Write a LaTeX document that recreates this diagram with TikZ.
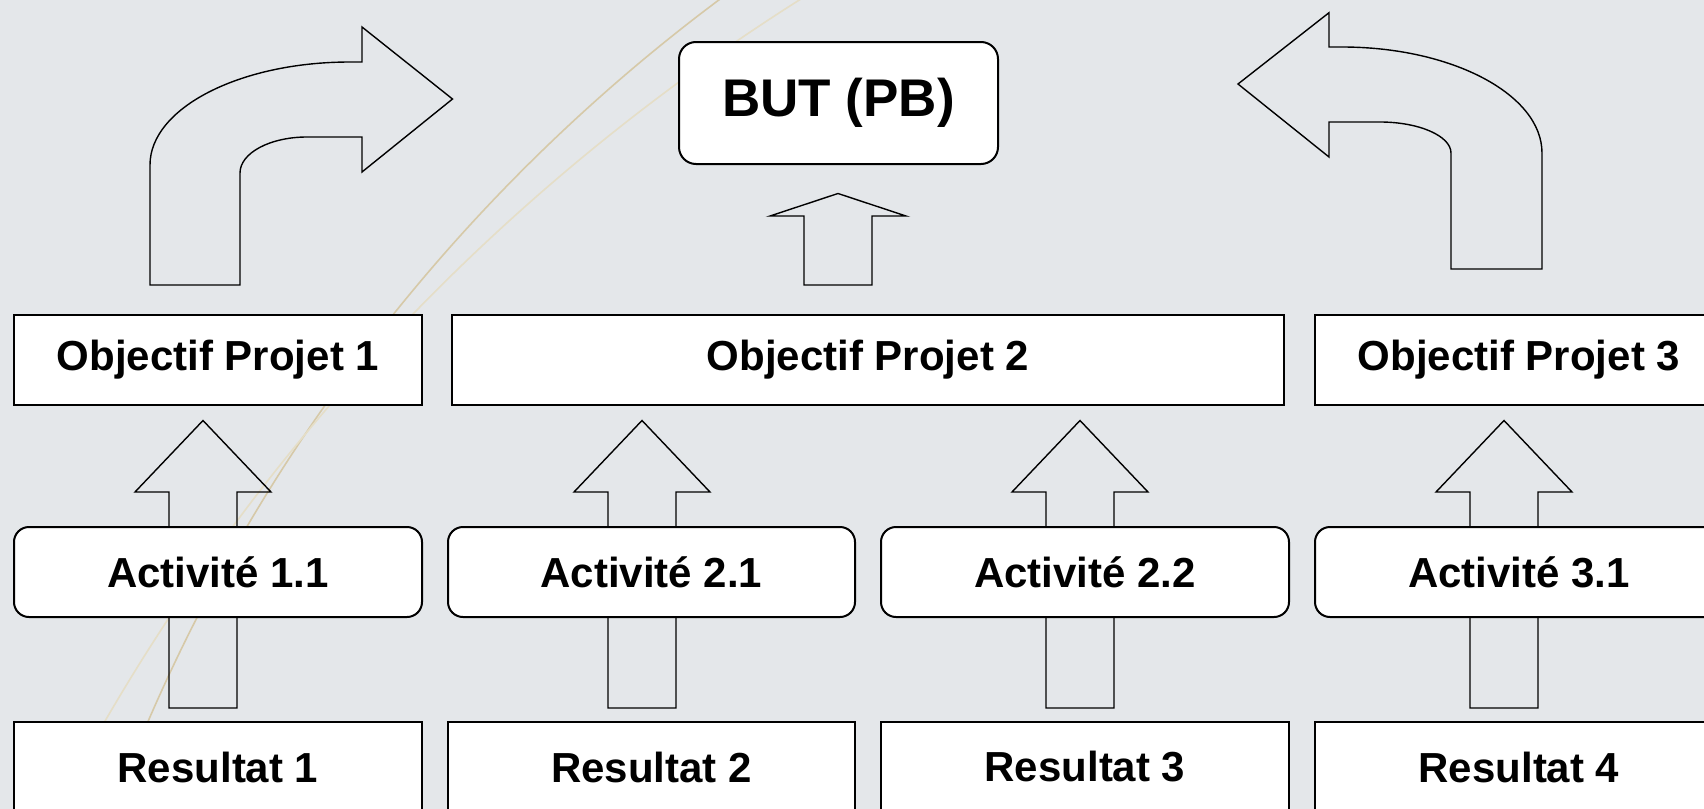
\documentclass[tikz,border=0pt]{standalone}
\usepackage{fontspec}
\setmainfont{Liberation Sans}
\usetikzlibrary{calc}
\definecolor{slidebg}{RGB}{228,231,234}
\definecolor{arcdark}{RGB}{214,201,168}
\definecolor{arclight}{RGB}{229,222,199}
\pgfdeclarelayer{back}
\pgfdeclarelayer{shapes}
\pgfsetlayers{back,shapes,main}

% upward block arrow: #1 base point, #2 tip, #3 head length, #4 shaft half width, #5 head half width
\newcommand\blockup[5]{%
  \draw[blockarrow] ($(#1)+(-#4,0)$) -- ($(#2)+(-#4,#3)$) -- ($(#2)+(-#5,#3)$) -- (#2)
    -- ($(#2)+(#5,#3)$) -- ($(#2)+(#4,#3)$) -- ($(#1)+(#4,0)$) -- cycle;}

\begin{document}
\begin{tikzpicture}[x=0.5pt,y=-0.5pt,
  box/.style={draw=black, line width=1pt, fill=white, inner sep=0pt, outer sep=0pt,
    minimum width=204pt, minimum height=45pt,
    font=\fontsize{21pt}{25pt}\selectfont\bfseries},
  rbox/.style={box, rounded corners=7.5pt},
  blockarrow/.style={draw=black, line width=0.7pt, line join=miter},
  arcline/.style={line width=0.8pt}]

\useasboundingbox (0,0) rectangle (1704,809);

% slide background with its two thin arcs
\begin{pgfonlayer}{back}
  \fill[slidebg] (0,0) rectangle (1704,809);
  \begin{scope}
    \clip (0,0) rectangle (1704,809);
    \draw[arcline, arcdark] (1782.6,1427.3) circle [radius=1780];
    \draw[arcline, arclight] (1915,1768.8) circle [radius=2091];
  \end{scope}
\end{pgfonlayer}

% boxes
\node[rbox, minimum width=159.5pt, minimum height=61pt, rounded corners=8.5pt,
  font=\fontsize{26.5pt}{31pt}\selectfont\bfseries] (but) at (838.5,103) {BUT (PB)};

\node[box] (obj1) at (218,360) {Objectif Projet 1};
\node[box, minimum width=416pt] (obj2) at (868,360) {Objectif Projet 2};
\node[box] (obj3) at (1519,360) {Objectif Projet 3};

\node[rbox] (act1) at (218,572) {Activité 1.1};
\node[rbox, minimum width=203.5pt] (act2) at (651.5,572) {Activité 2.1};
\node[rbox] (act3) at (1085,572) {Activité 2.2};
\node[rbox] (act4) at (1519,572) {Activité 3.1};

\node[box] (res1) at (218,767) {Resultat 1};
\node[box, minimum width=203.5pt] (res2) at (651.5,767) {Resultat 2};
\node[box] (res3) at (1085,767) {Resultat 3};
\node[box] (res4) at (1519,767) {Resultat 4};

% arrow ends
\coordinate (t1) at (203,420.5);  \coordinate (b1) at (203,708);
\coordinate (t2) at (642,420.5);  \coordinate (b2) at (642,708);
\coordinate (t3) at (1080,420.5); \coordinate (b3) at (1080,708);
\coordinate (t4) at (1504,420.5); \coordinate (b4) at (1504,708);
\coordinate (tb) at (838,193.5);  \coordinate (bb) at (838,285);

\begin{pgfonlayer}{shapes}
  \blockup{b1}{t1}{71.5}{34}{68}
  \blockup{b2}{t2}{71.5}{34}{68}
  \blockup{b3}{t3}{71.5}{34}{68}
  \blockup{b4}{t4}{71.5}{34}{68}
  \blockup{bb}{tb}{22.5}{34}{68}

  % bent arrow turning right, above Objectif Projet 1
  \draw[blockarrow] (150,285) -- (150,165)
    .. controls (150,108) and (240,62) .. (350,62) -- (362,62) -- (362,27)
    -- (452.5,99) -- (362,172) -- (362,137) -- (307,137)
    .. controls (270,137) and (240,153) .. (240,173) -- (240,285) -- cycle;

  % bent arrow turning left, above Objectif Projet 3
  \draw[blockarrow] (1542,269) -- (1542,153)
    .. controls (1542,94.5) and (1452,47) .. (1342,47) -- (1329,47) -- (1329,12.7)
    -- (1238,84) -- (1329,157) -- (1329,122) -- (1380,122)
    .. controls (1419,122) and (1451,136) .. (1451,153) -- (1451,269) -- cycle;
\end{pgfonlayer}

\end{tikzpicture}
\end{document}
